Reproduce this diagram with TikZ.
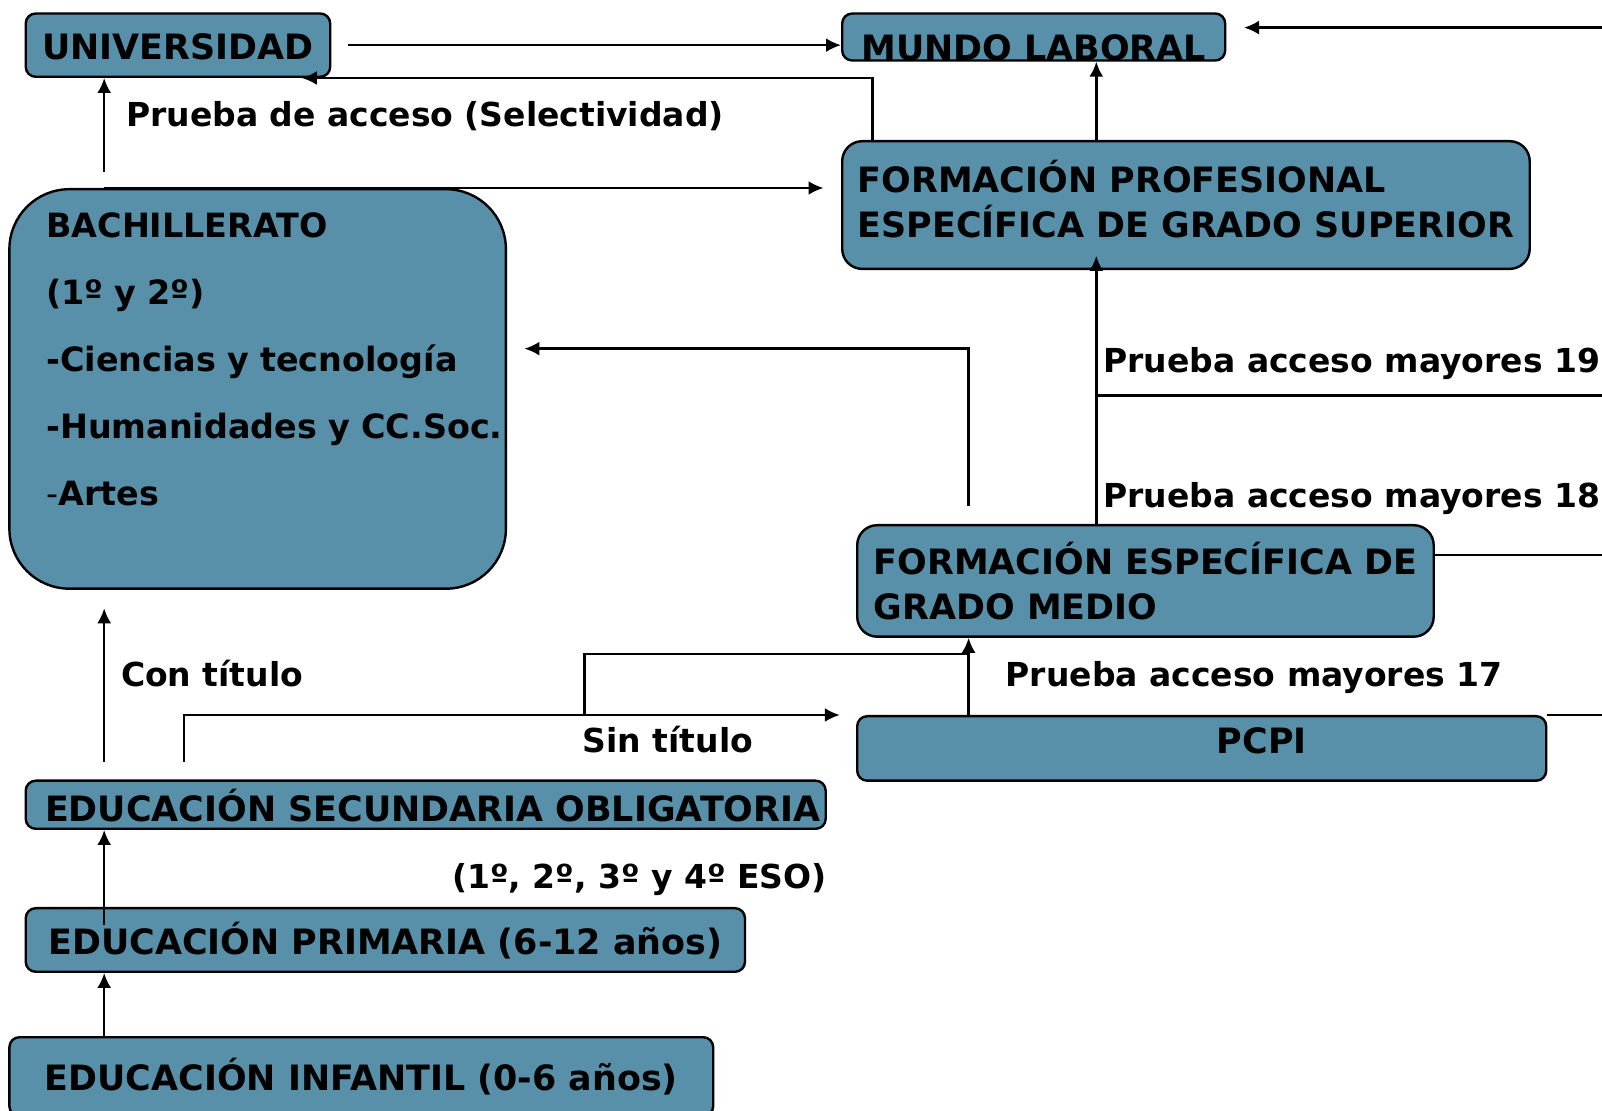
\documentclass[tikz,border=0pt]{standalone}
\usepackage{fontspec}
\setmainfont{DejaVu Sans}
\usetikzlibrary{arrows.meta,positioning,calc}
\definecolor{boxblue}{RGB}{87,144,168}

\begin{document}
\begin{tikzpicture}[
    x=0.5pt, y=-0.5pt,
    box/.style={rectangle, draw, line width=1.2pt, fill=boxblue, rounded corners=5pt, anchor=north west, font=\fontsize{17.45}{22.5}\selectfont\bfseries},
    oneline/.style={box, inner ysep=0pt},
    multi/.style={box, align=left},
    lbl/.style={anchor=base west, inner sep=0pt, font=\fontsize{16.5}{22.5}\selectfont\bfseries},
    conn/.style={line width=1.2pt},
    arr/.style={conn, -{Latex[length=7.5pt,width=7pt]}}
]
    \useasboundingbox (0,0) rectangle (1602,1111);

    % Boxes
    \node[oneline, minimum width=152.25pt, text height=23.25pt, text depth=8.4pt] (univ) at (24.5,12.3) {UNIVERSIDAD};
    \node[oneline, minimum width=191.5pt, text height=23.5pt, text depth=0pt] (mundo) at (841,12.3) {MUNDO LABORAL};
    \node[multi, rounded corners=10pt, minimum width=343.75pt, minimum height=63.85pt] (fpsup) at (841,140) {FORMACIÓN PROFESIONAL\\ESPECÍFICA DE GRADO SUPERIOR\\[-16.5pt]\mbox{}};
    \node[multi, rounded corners=30pt, minimum width=248.25pt, minimum height=199.75pt, text width=211.45pt, inner xsep=18.4pt,
          font=\fontsize{16.7}{33.5}\selectfont\bfseries] (bach) at (8.2,188)
          {BACHILLERATO\\(1º y 2º)\\-Ciencias y tecnología\\\mbox{-Humanidades y CC.Soc.}\\{\mdseries -}Artes\\[-4.1pt]\mbox{}};
    \node[multi, rounded corners=10pt, minimum width=288.25pt, minimum height=55.75pt] (fgm) at (856,524) {FORMACIÓN ESPECÍFICA DE\\GRADO MEDIO};
    \node[oneline, minimum width=344.5pt, text height=18.75pt, text depth=13.5pt] (pcpi) at (856,715) {\hspace*{60pt}PCPI};
    \node[oneline, inner xsep=0pt, minimum width=400pt, text height=20.65pt, text depth=3.4pt] (eso) at (24.5,779.5) {\hspace*{7pt}EDUCACIÓN SECUNDARIA OBLIGATORIA};
    \node[oneline, minimum width=359.65pt, text height=23.4pt, text depth=8.4pt] (prim) at (24.5,907) {EDUCACIÓN PRIMARIA (6-12 años)};
    \node[oneline, minimum width=351.9pt, text height=26.4pt, text depth=13.1pt] (inf) at (8.2,1036) {EDUCACIÓN INFANTIL (0-6 años)};

    % Labels
    \node[lbl] (sel) at (125.7,126.2) {Prueba de acceso (Selectividad)};
    \node[lbl] (may19) at (1103,372.4) {Prueba acceso mayores 19};
    \node[lbl] (may18) at (1103,507.3) {Prueba acceso mayores 18};
    \node[lbl] (may17) at (1005.3,686.1) {Prueba acceso mayores 17};
    \node[lbl] (con) at (120.6,686.1) {Con título};
    \node[lbl] (sin) at (582.4,752.5) {Sin título};
    \node[lbl] (cursos) at (451.6,888.4) {(1º, 2º, 3º y 4º ESO)};

    % Columns and free ends
    \coordinate (colA) at (104.2,0);
    \coordinate (colB) at (968.6,0);
    \coordinate (colC) at (1096.3,0);
    \coordinate (rtop) at (1602,27.6);
    \coordinate (r19) at (1602,395.4);
    \coordinate (r18) at (1602,554.8);
    \coordinate (r17) at (1602,715);
    \coordinate (split) at (584.4,715);

    % Arrows
    \draw[arr] ($(univ.east)+(16.3,0)$) -- (univ.east -| mundo.west);
    \draw[arr] ($(fpsup.north west)+(31.5,0)$) |- ($(univ.south east)+(-29.6,0)$);
    \draw[arr] (fpsup.north -| colC) -- (mundo.south -| colC);
    \draw[arr] (rtop) -- ($(mundo.east |- rtop)+(17.6,0)$);
    \draw[arr] ($(bach.north -| colA)+(0,-16.4)$) -- (univ.south -| colA);
    \draw[arr] (bach.north -| colA) -- ($(fpsup.west |- bach.north)+(-17.5,0)$);
    \draw[arr] ($(fgm.north -| colB)+(0,-18.3)$) |- ($(bach.east)+(17.3,-40.3)$);
    \draw[arr] (fgm.north -| colC) -- ($(fpsup.south -| colC)+(0,-14.3)$);
    \draw[conn] (colC |- r19) -- (r19);
    \draw[conn] (fgm.east |- r18) -- (r18);
    \draw[conn] (pcpi.north east) -- (r17);
    \draw[arr] (pcpi.north -| colB) -- (fgm.south -| colB);
    \draw[arr] ($(eso.north west)+(159.5,-17.5)$) |- ($(pcpi.north west)+(-16.2,0)$);
    \draw[conn] (split) |- ($(fgm.south -| colB)+(0,16.3)$);
    \draw[arr] ($(eso.north -| colA)+(0,-17.5)$) -- ($(bach.south -| colA)+(0,18.4)$);
    \draw[arr] ($(prim.north -| colA)+(0,17.6)$) -- (eso.south -| colA);
    \draw[arr] (inf.north -| colA) -- (prim.south -| colA);
\end{tikzpicture}
\end{document}
